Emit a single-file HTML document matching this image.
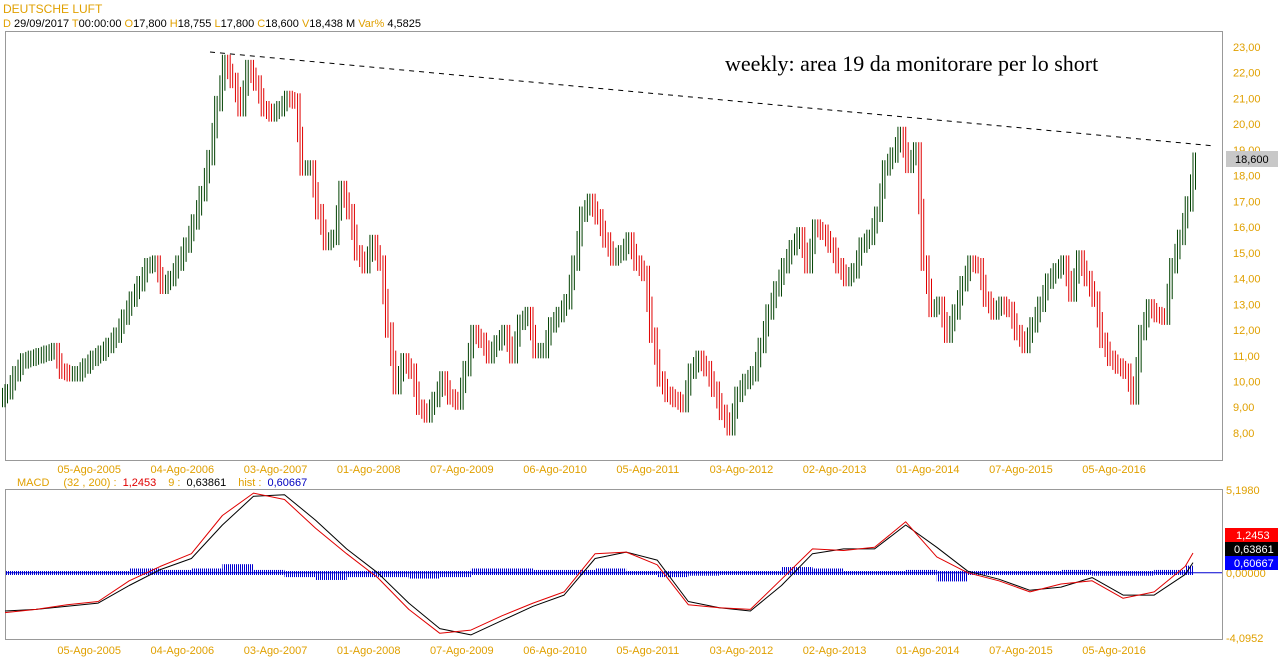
<!DOCTYPE html>
<html><head><meta charset="utf-8">
<style>
html,body{margin:0;padding:0;background:#fff;width:1278px;height:668px;overflow:hidden}
svg{display:block;font-family:"Liberation Sans",Arial,sans-serif}
</style></head>
<body>
<svg id="chart" width="1278" height="668" viewBox="0 0 1278 668">
  <defs>
    <pattern id="histPat" width="2" height="4" patternUnits="userSpaceOnUse">
      <rect x="0" y="0" width="1" height="4" fill="#0000d0"/>
    </pattern>
  </defs>
  <text x="3" y="13" font-size="12" fill="#e0a000">DEUTSCHE LUFT</text>
  <g font-size="11">
    <text x="3" y="27"><tspan fill="#e0a000">D</tspan><tspan fill="#000"> 29/09/2017 </tspan><tspan fill="#e0a000"> T</tspan><tspan fill="#000">00:00:00 </tspan><tspan fill="#e0a000"> O</tspan><tspan fill="#000">17,800 </tspan><tspan fill="#e0a000"> H</tspan><tspan fill="#000">18,755 </tspan><tspan fill="#e0a000"> L</tspan><tspan fill="#000">17,800 </tspan><tspan fill="#e0a000"> C</tspan><tspan fill="#000">18,600 </tspan><tspan fill="#e0a000"> V</tspan><tspan fill="#000">18,438 M </tspan><tspan fill="#e0a000"> Var%</tspan><tspan fill="#000"> 4,5825</tspan></text>
  </g>
  <rect x="5.5" y="31.5" width="1217" height="429" fill="none" stroke="#999"/>
  <rect x="5.5" y="489.5" width="1217" height="150" fill="none" stroke="#999"/>
  <g id="priceAxis" font-size="11" fill="#e0a000"></g>
  <g id="bars"></g>
  <line x1="210" y1="52" x2="1215" y2="146" stroke="#000" stroke-dasharray="5,5"/>
  <text x="725" y="71" font-family="Liberation Serif, serif" font-size="22" fill="#000">weekly: area 19 da monitorare per lo short</text>
  <rect x="1226" y="151" width="52" height="16" fill="#c8c8c8"/>
  <text x="1235" y="163" font-size="11" fill="#000">18,600</text>
  <g id="dates1" font-size="11" fill="#e0a000"></g>
  <g font-size="11">
    <text x="17" y="486"><tspan fill="#e0a000">MACD</tspan><tspan fill="#e0a000" dx="14">(32 , 200) :</tspan><tspan fill="#e00000" dx="6">1,2453</tspan><tspan fill="#e0a000" dx="12">9 :</tspan><tspan fill="#000" dx="6">0,63861</tspan><tspan fill="#e0a000" dx="12">hist :</tspan><tspan fill="#0000c0" dx="6">0,60667</tspan></text>
  </g>
  <g id="macdG"></g>
  <g font-size="11">
    <text x="1226" y="494" fill="#e0a000">5,1980</text>
    <text x="1226" y="577" fill="#e0a000">0,00000</text>
    <text x="1226" y="642" fill="#e0a000">-4,0952</text>
    <rect x="1225" y="528" width="53" height="14" fill="#ff0000"/>
    <text x="1236" y="539" fill="#fff">1,2453</text>
    <rect x="1225" y="542" width="53" height="14" fill="#000"/>
    <text x="1234" y="553" fill="#fff">0,63861</text>
    <rect x="1225" y="556" width="53" height="14" fill="#0000ff"/>
    <text x="1234" y="567" fill="#fff">0,60667</text>
  </g>
  <g id="dates2" font-size="11" fill="#e0a000"></g>
</svg>
<script>
// monthly closes Jan 2005 .. Sep 2017
const closes = [9.6,10.3,10.8,10.9,11.0,11.1,11.2,10.4,10.3,10.3,10.6,10.9,
11.1,11.4,11.8,12.5,13.2,13.8,14.5,14.6,13.7,14.0,14.6,15.3,
16.2,17.3,18.7,20.8,22.4,21.7,20.6,22.2,21.6,20.6,20.4,20.6,
21.0,20.9,18.3,18.3,16.6,15.4,15.6,17.5,16.6,15.0,14.5,15.4,
14.6,12.0,9.8,10.8,10.4,9.0,8.7,9.3,10.1,9.4,9.2,10.5,
11.9,11.6,11.0,11.5,11.9,11.0,12.3,12.6,11.2,11.2,12.2,12.6,
13.1,14.6,16.5,17.0,16.4,15.5,14.8,15.0,15.5,14.6,14.2,11.8,
10.1,9.5,9.3,9.1,10.4,10.9,10.5,9.7,8.8,8.2,9.5,10.0,
10.3,11.4,12.7,13.6,14.5,15.2,15.7,14.5,16.0,15.8,15.3,14.5,
14.0,14.3,15.3,15.6,16.5,18.3,18.8,19.6,18.4,19.0,14.6,12.8,
13.0,11.8,12.7,13.8,14.6,14.5,13.2,12.7,13.0,12.8,11.9,11.4,
12.2,13.0,13.9,14.3,14.6,13.4,14.8,14.0,13.2,11.6,10.9,10.6,
10.4,9.4,11.9,12.9,12.6,12.5,14.5,15.6,16.9,18.6];
const priceTicks = [8,9,10,11,12,13,14,15,16,17,18,19,20,21,22,23];
const dateLabels = ["05-Ago-2005","04-Ago-2006","03-Ago-2007","01-Ago-2008","07-Ago-2009","06-Ago-2010","05-Ago-2011","03-Ago-2012","02-Ago-2013","01-Ago-2014","07-Ago-2015","05-Ago-2016"];
const dateMonthIdx = [7,19,31,43,55,67,79,91,103,115,127,139];
// MACD samples (month index, macd, signal)
const macdIdx = [0,4,8,12,16,20,24,28,32,36,40,44,48,52,56,60,64,68,72,76,80,84,88,92,96,100,104,108,112,116,120,124,128,132,136,140,144,148,152,153];
const macdVals = [-2.5,-2.3,-2.0,-1.8,-0.5,0.4,1.2,3.6,5.0,4.6,2.8,1.2,-0.3,-2.3,-3.8,-3.6,-2.7,-1.9,-1.2,1.2,1.3,0.5,-2.0,-2.2,-2.3,-0.4,1.5,1.4,1.6,3.2,1.0,0.0,-0.5,-1.2,-0.7,-0.5,-1.6,-1.2,0.4,1.2453];
const signalVals = [-2.4,-2.3,-2.1,-1.9,-0.8,0.2,0.9,3.0,4.8,4.9,3.3,1.5,0.0,-1.9,-3.5,-3.9,-3.0,-2.1,-1.4,0.9,1.3,0.8,-1.8,-2.2,-2.4,-0.8,1.2,1.5,1.5,3.0,1.6,0.1,-0.4,-1.1,-0.9,-0.3,-1.4,-1.4,-0.1,0.63861];

const NS='http://www.w3.org/2000/svg';
const X0=5, XSTEP=(1193-5)/153;
const xOf=i=>X0+i*XSTEP;
const yP=p=>47+(23-p)*25.73;
const yM=v=>572.8-v*15.93;
function mk(tag,attrs,parent){const e=document.createElementNS(NS,tag);for(const k in attrs)e.setAttribute(k,attrs[k]);parent.appendChild(e);return e;}

const pa=document.getElementById('priceAxis');
priceTicks.forEach(t=>{
  const e=mk('text',{x:1233,y:yP(t)+4},pa);
  
  
  e.textContent=t.toFixed(2).replace('.',',');
});

const bg=document.getElementById('bars');
closes.forEach((c,i)=>{
  const o=i>0?closes[i-1]:c-0.3;
  const m=(o+c)/2;
  const col=c>=o?'#004000':'#e00000';
  const cx=xOf(i);
  const segs=[[-2.5,o,m],[0,Math.min(o,c),Math.max(o,c)],[2.5,m,c]];
  segs.forEach(([d,a,b])=>{
    const hi=Math.max(a,b)+0.3, lo=Math.min(a,b)-0.3;
    const l=mk('line',{x1:cx+d,x2:cx+d,y1:yP(hi),y2:yP(lo),stroke:col,'stroke-width':1},bg);
    
    
  });
});

['dates1','dates2'].forEach((id,k)=>{
  const g=document.getElementById(id);
  dateLabels.forEach((s,j)=>{
    const e=mk('text',{x:xOf(dateMonthIdx[j])-2,y:k===0?473:654},g);
    
    
    e.textContent=s;
  });
});

const mg=document.getElementById('macdG');
mk('line',{x1:6,x2:1222,y1:572.8,y2:572.8,stroke:'#0000d0','stroke-width':1},mg);
for(let j=0;j<macdIdx.length-1;j++){
  const h=(macdVals[j]-signalVals[j])*0.9;
  const x1=xOf(macdIdx[j]), x2=xOf(macdIdx[j+1]);
  const top=Math.min(yM(h),571), bot=Math.max(yM(h),575);
  const r=mk('rect',{x:x1,y:top,width:x2-x1,height:bot-top,fill:'url(#histPat)'},mg);
  
  
}
function pathFor(vals){return vals.map((v,j)=>(j?'L':'M')+xOf(macdIdx[j]).toFixed(1)+','+yM(v).toFixed(1)).join(' ');}
const sl=mk('path',{d:pathFor(signalVals),fill:'none',stroke:'#000','stroke-width':1,'stroke-linejoin':'round'},mg);


const ml=mk('path',{d:pathFor(macdVals),fill:'none',stroke:'#e00000','stroke-width':1,'stroke-linejoin':'round'},mg);


</script>
</body></html>
